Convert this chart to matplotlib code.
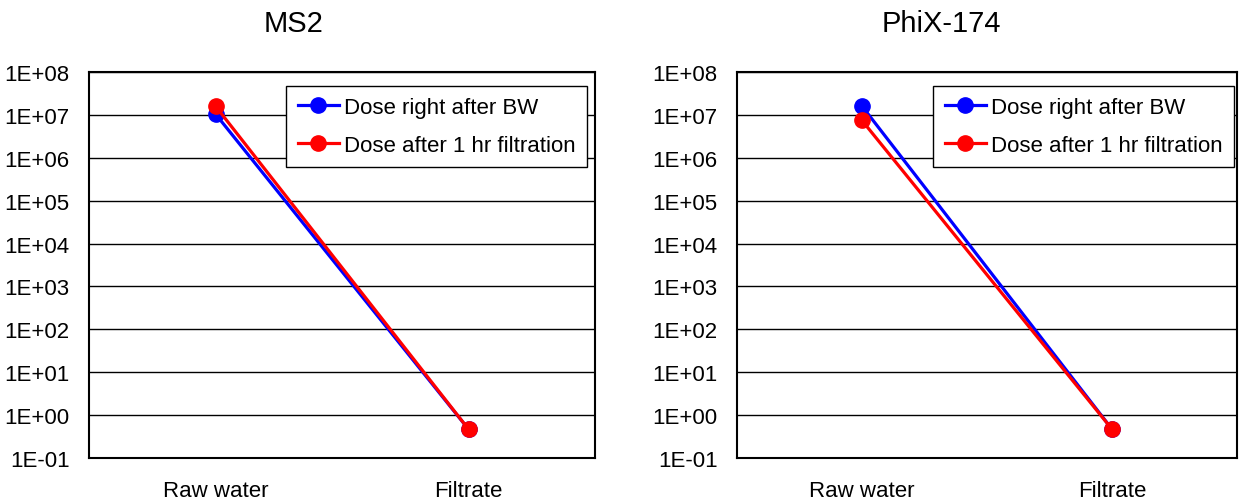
import matplotlib
matplotlib.use("Agg")
import matplotlib.pyplot as plt
from matplotlib.ticker import FixedLocator, FixedFormatter, NullLocator

plt.rcParams['font.family'] = ['Liberation Sans', 'DejaVu Sans']

categories = ["Raw water", "Filtrate"]
series_names = ["Dose right after BW", "Dose after 1 hr filtration"]
series_colors = ["#0000FF", "#FF0000"]

ms2_bw = [1.05e7, 0.47]
ms2_filt = [1.6e7, 0.47]
phix_bw = [1.6e7, 0.47]
phix_filt = [7.4e6, 0.47]

titles = ["MS2", "PhiX-174"]
ytick_values = [1e-1, 1e0, 1e1, 1e2, 1e3, 1e4, 1e5, 1e6, 1e7, 1e8]
ytick_labels = ["1E-01", "1E+00", "1E+01", "1E+02", "1E+03", "1E+04",
                "1E+05", "1E+06", "1E+07", "1E+08"]

fig = plt.figure(figsize=(12.4, 5.02), dpi=100)
ax1 = fig.add_axes([89/1240, 1-459/502, (595-89)/1240, (459-73)/502])
ax2 = fig.add_axes([737/1240, 1-459/502, (1237-737)/1240, (459-73)/502])

panels = [(ax1, [ms2_bw, ms2_filt], titles[0], 294/1240),
          (ax2, [phix_bw, phix_filt], titles[1], 941/1240)]

x = list(range(len(categories)))
for ax, data, title, tx in panels:
    for vals, name, col in zip(data, series_names, series_colors):
        ax.plot(x, vals, color=col, lw=2.3, marker='o', markersize=11,
                markeredgecolor=col, markerfacecolor=col, label=name)
    ax.set_yscale('log')
    ax.set_ylim(1e-1, 1e8)
    ax.set_xlim(-0.5, 1.5)
    ax.yaxis.set_major_locator(FixedLocator(ytick_values))
    ax.yaxis.set_major_formatter(FixedFormatter(ytick_labels))
    ax.yaxis.set_minor_locator(NullLocator())
    ax.set_xticks(x)
    ax.set_xticklabels(categories)
    ax.tick_params(axis='y', length=0, pad=14, labelsize=16)
    ax.tick_params(axis='x', length=0, pad=16, labelsize=16)
    ax.grid(axis='y', color='black', lw=1.0)
    ax.set_axisbelow(True)
    for s in ax.spines.values():
        s.set_linewidth(1.5)
        s.set_color('black')
    fig.text(tx, 1-24/502, title, ha='center', va='center', fontsize=21)

leg_kw = dict(loc='upper right', fontsize=16, frameon=True, fancybox=False,
              edgecolor='black', framealpha=1, handlelength=1.85,
              handletextpad=0.25, labelspacing=0.75, borderpad=0.5,
              borderaxespad=0)
leg1 = ax1.legend(bbox_to_anchor=(0.984, 0.964), **leg_kw)
leg1.get_frame().set_linewidth(1.0)
leg2 = ax2.legend(bbox_to_anchor=(0.994, 0.964), **leg_kw)
leg2.get_frame().set_linewidth(1.0)

fig.savefig("out.png", dpi=100)
